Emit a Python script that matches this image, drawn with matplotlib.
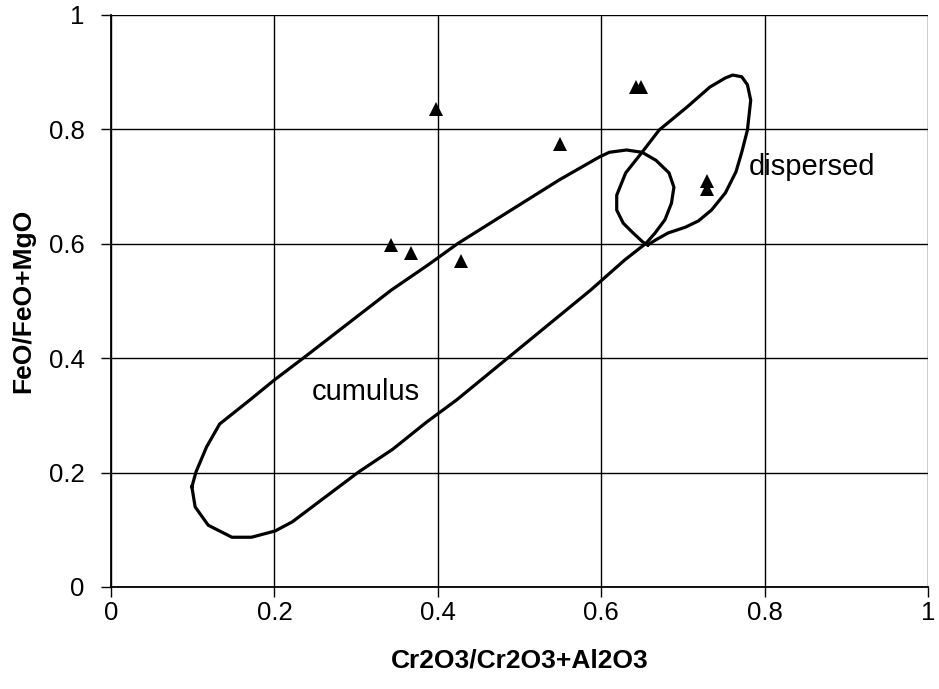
import matplotlib.pyplot as plt

plt.rcParams['font.family'] = ['Liberation Sans', 'DejaVu Sans']

# spinel analyses: Cr2O3/(Cr2O3+Al2O3) vs FeO/(FeO+MgO)
cr_ratio = [0.398, 0.343, 0.367, 0.428, 0.549, 0.643, 0.649, 0.729, 0.729]
fe_ratio = [0.836, 0.598, 0.584, 0.570, 0.774, 0.875, 0.875, 0.709, 0.695]

# outline of the cumulus field
cumulus_x = [0.099, 0.104, 0.117, 0.133, 0.170, 0.200, 0.237, 0.343, 0.388, 0.425,
             0.549, 0.598, 0.610, 0.631, 0.650, 0.667, 0.683, 0.689, 0.686, 0.678,
             0.666, 0.655, 0.629, 0.587, 0.423, 0.386, 0.345, 0.303, 0.222, 0.201,
             0.172, 0.148, 0.119, 0.103, 0.099]
cumulus_y = [0.175, 0.201, 0.245, 0.285, 0.327, 0.362, 0.402, 0.519, 0.563, 0.601,
             0.712, 0.752, 0.760, 0.764, 0.760, 0.746, 0.724, 0.699, 0.671, 0.642,
             0.619, 0.601, 0.572, 0.519, 0.327, 0.288, 0.241, 0.201, 0.114, 0.098,
             0.087, 0.087, 0.108, 0.140, 0.175]

# outline of the dispersed field
dispersed_x = [0.657, 0.651, 0.639, 0.627, 0.619, 0.619, 0.630, 0.650, 0.671, 0.705,
               0.733, 0.752, 0.761, 0.772, 0.779, 0.783, 0.781, 0.779, 0.772, 0.765,
               0.752, 0.735, 0.719, 0.703, 0.682, 0.667, 0.657]
dispersed_y = [0.598, 0.603, 0.619, 0.636, 0.659, 0.685, 0.724, 0.760, 0.799, 0.839,
               0.874, 0.890, 0.895, 0.892, 0.878, 0.851, 0.825, 0.799, 0.760, 0.726,
               0.689, 0.659, 0.640, 0.629, 0.619, 0.607, 0.598]

ticks = [0, 0.2, 0.4, 0.6, 0.8, 1]
tick_labels = ['0', '0.2', '0.4', '0.6', '0.8', '1']

fig = plt.figure(figsize=(9.39, 6.89), dpi=100)
ax = fig.add_axes([111 / 939, 1 - 587 / 689, 817 / 939, 572 / 689])

ax.plot(cumulus_x, cumulus_y, color='black', lw=2.3, solid_joinstyle='round')
ax.plot(dispersed_x, dispersed_y, color='black', lw=2.3, solid_joinstyle='round')
ax.plot(cr_ratio, fe_ratio, linestyle='none', marker='^', ms=10,
        color='black', markeredgewidth=0)

ax.text(0.246, 0.341, 'cumulus', fontsize=21, va='center', ha='left')
ax.text(0.780, 0.735, 'dispersed', fontsize=21, va='center', ha='left')

ax.set_xlim(0, 1)
ax.set_ylim(0, 1)
ax.set_xticks(ticks)
ax.set_xticklabels(tick_labels)
ax.set_yticks(ticks)
ax.set_yticklabels(tick_labels)
ax.grid(True, color='black', lw=1.0)
ax.set_axisbelow(True)
for side in ['top', 'right']:
    ax.spines[side].set_visible(False)
for side in ['left', 'bottom']:
    ax.spines[side].set_linewidth(1.3)
ax.tick_params(axis='both', direction='out', length=7, width=1.0,
               labelsize=18.5, colors='black')
ax.tick_params(axis='y', pad=12)
ax.tick_params(axis='x', pad=3)

ax.set_xlabel('Cr2O3/Cr2O3+Al2O3', fontsize=19, fontweight='bold', labelpad=17)
ax.set_ylabel('FeO/FeO+MgO', fontsize=19, fontweight='bold', labelpad=10)

plt.savefig('out.png', dpi=100)
plt.close()
